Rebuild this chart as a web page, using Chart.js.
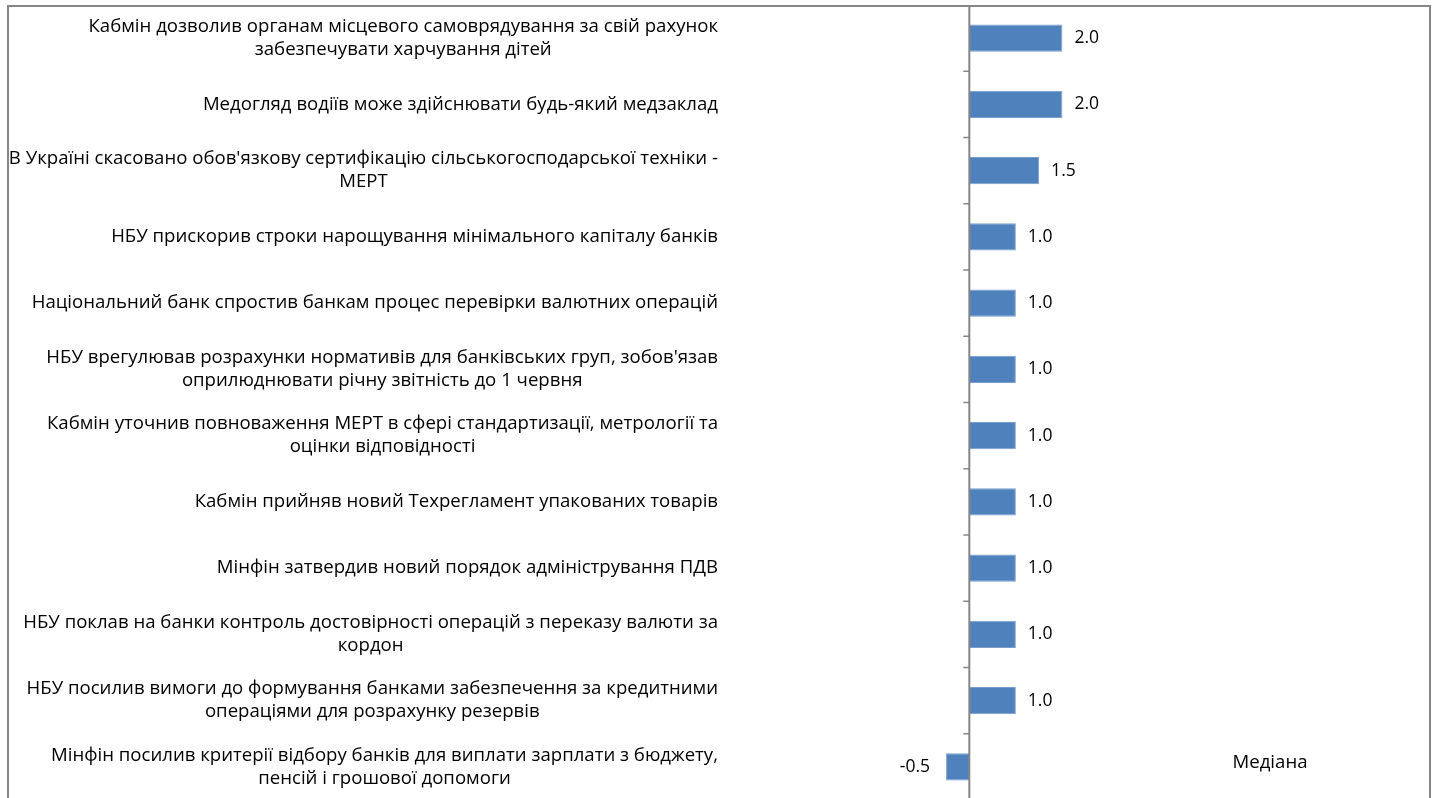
<!DOCTYPE html>
<html>
<head>
<meta charset="utf-8">
<script src="https://cdn.jsdelivr.net/npm/chart.js@4.4.1/dist/chart.umd.min.js"></script>
<style>
  html, body { margin: 0; padding: 0; overflow: hidden; background: #fff; }
  #wrap { position: absolute; left: 0; top: 0; width: 1436px; height: 800px; }
  #frame { position: absolute; left: 7px; top: 5px; width: 1424px; height: 900px;
           border: 2px solid #868686; box-sizing: border-box; pointer-events: none; }
</style>
</head>
<body>
<div id="wrap"><canvas id="barChart"></canvas></div>
<div id="frame"></div>
<script>
const categories = [
  ['Кабмін дозволив органам місцевого самоврядування за свій рахунок', 'забезпечувати харчування дітей'],
  ['Медогляд водіїв може здійснювати будь-який медзаклад'],
  ["В Україні скасовано обов'язкову сертифікацію сільськогосподарської техніки -", 'МЕРТ'],
  ['НБУ прискорив строки нарощування мінімального капіталу банків'],
  ['Національний банк спростив банкам процес перевірки валютних операцій'],
  ["НБУ врегулював розрахунки нормативів для банківських груп, зобов'язав", 'оприлюднювати річну звітність до 1 червня'],
  ['Кабмін уточнив повноваження МЕРТ в сфері стандартизації, метрології та', 'оцінки відповідності'],
  ['Кабмін прийняв новий Техрегламент упакованих товарів'],
  ['Мінфін затвердив новий порядок адміністрування ПДВ'],
  ['НБУ поклав на банки контроль достовірності операцій з переказу валюти за', 'кордон'],
  ['НБУ посилив вимоги до формування банками забезпечення за кредитними', 'операціями для розрахунку резервів'],
  ['Мінфін посилив критерії відбору банків для виплати зарплати з бюджету,', 'пенсій і грошової допомоги']
];
const values = [2.0, 2.0, 1.5, 1.0, 1.0, 1.0, 1.0, 1.0, 1.0, 1.0, 1.0, -0.5];
const legendLabel = 'Медіана';

const FONT = '"Open Sans", sans-serif';

// draws category labels, axis line at zero, tick marks, value labels, legend text
const excelBits = {
  id: 'excelBits',
  afterDatasetsDraw(chart) {
    const { ctx, chartArea, scales: { x, y } } = chart;
    const x0 = x.getPixelForValue(0);
    ctx.save();

    // category labels: block right-aligned, lines centred within the block
    ctx.font = '18.6px ' + FONT;
    ctx.fillStyle = '#000';
    ctx.textBaseline = 'middle';
    ctx.textAlign = 'center';
    const right = chartArea.left - 7;
    const lineH = 23;
    categories.forEach((lines, i) => {
      const cy = y.getPixelForValue(i);
      const w = Math.max(...lines.map(l => ctx.measureText(l).width));
      const cx = right - w / 2;
      lines.forEach((l, k) => {
        ctx.fillText(l, cx, cy + (k - (lines.length - 1) / 2) * lineH);
      });
    });

    // axis line at zero
    ctx.strokeStyle = '#868686';
    ctx.lineWidth = 2;
    ctx.beginPath();
    ctx.moveTo(x0, chartArea.top);
    ctx.lineTo(x0, chartArea.bottom);
    ctx.stroke();

    // tick marks between categories
    ctx.lineWidth = 1.5;
    for (let i = 0; i < categories.length - 1; i++) {
      const b = (y.getPixelForValue(i) + y.getPixelForValue(i + 1)) / 2;
      ctx.beginPath();
      ctx.moveTo(x0 - 6, b);
      ctx.lineTo(x0, b);
      ctx.stroke();
    }

    // value labels
    ctx.font = '17.5px ' + FONT;
    ctx.fillStyle = '#000';
    const meta = chart.getDatasetMeta(0);
    meta.data.forEach((bar, i) => {
      const v = values[i];
      const txt = v.toFixed(1);
      if (v >= 0) {
        ctx.textAlign = 'left';
        ctx.fillText(txt, bar.x + 12, bar.y);
      } else {
        ctx.textAlign = 'right';
        ctx.fillText(txt, bar.x - 16, bar.y);
      }
    });

    // legend entry (no marker visible)
    ctx.font = '18.6px ' + FONT;
    ctx.textAlign = 'center';
    ctx.fillText(legendLabel, 1270, 763);
    ctx.restore();
  }
};

const ctx = document.getElementById('barChart').getContext('2d');
new Chart(ctx, {
  type: 'bar',
  data: {
    labels: categories,
    datasets: [{
      label: 'Оцінка',
      data: values,
      backgroundColor: '#4F81BD',
      borderColor: '#7A9FCF',
      borderWidth: 1,
      barPercentage: 0.41,
      categoryPercentage: 1.0
    }]
  },
  options: {
    indexAxis: 'y',
    responsive: true,
    maintainAspectRatio: false,
    animation: false,
    layout: { padding: { top: 5, bottom: 0, left: 0, right: 234 } },
    plugins: {
      legend: { display: false },
      tooltip: { enabled: false }
    },
    scales: {
      x: {
        display: false,
        min: -5.25,
        max: 5
      },
      y: {
        grid: { display: false },
        border: { display: false },
        ticks: { display: false },
        afterFit: s => { s.width = 725; }
      }
    }
  },
  plugins: [excelBits]
});
</script>
</body>
</html>
